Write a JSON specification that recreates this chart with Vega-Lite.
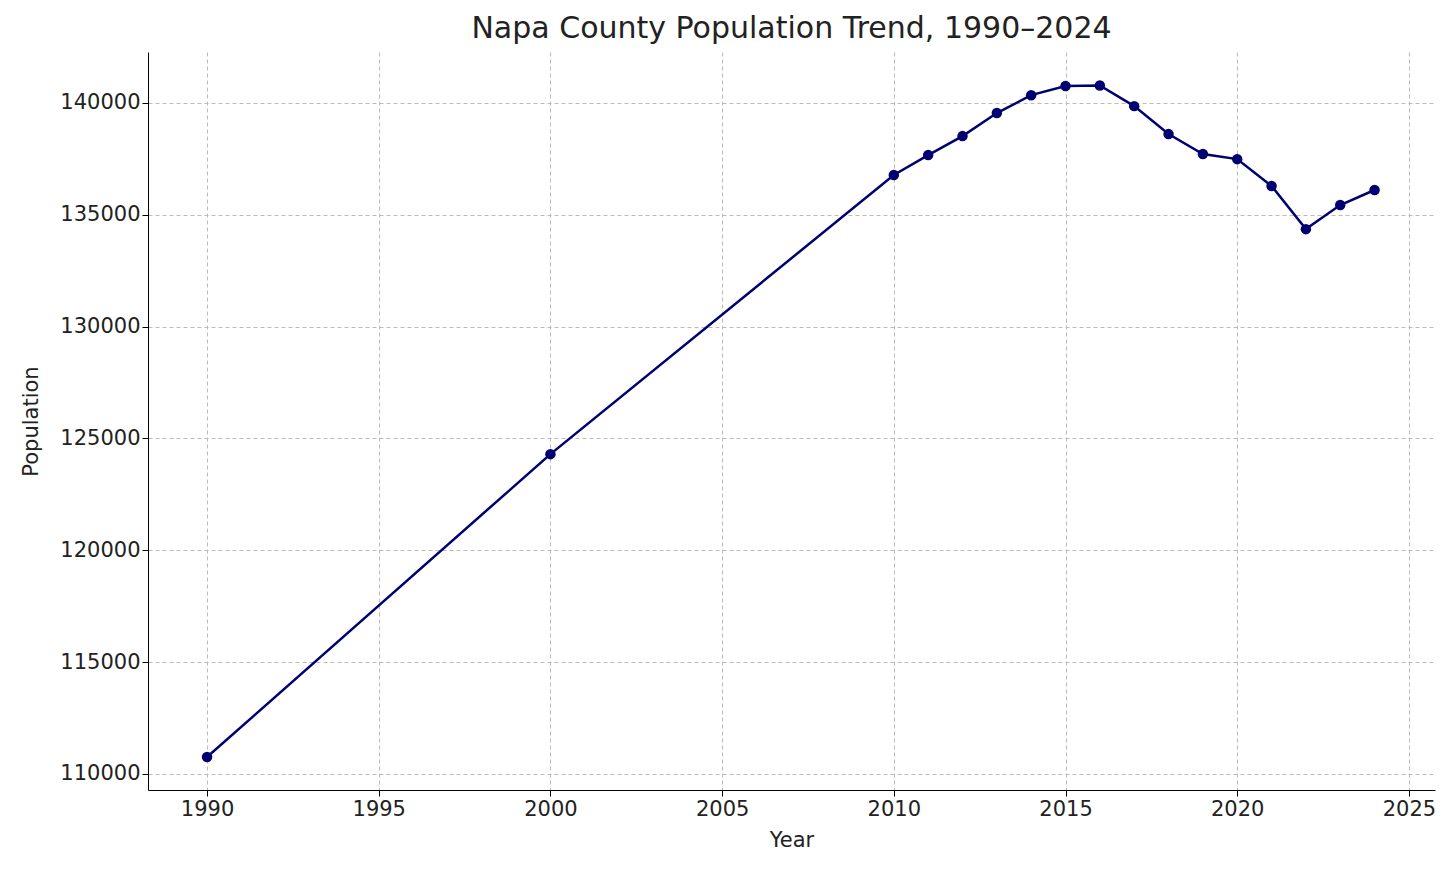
{
  "$schema": "https://vega.github.io/schema/vega-lite/v6.json",
  "autosize": {"type": "none"},
  "padding": {"left": 148, "top": 52, "right": 21, "bottom": 79},
  "width": 1287,
  "height": 738,
  "background": "white",
  "title": {"text": "Napa County Population Trend, 1990–2024", "fontSize": 30, "fontWeight": "normal", "font": "DejaVu Sans", "color": "#222", "offset": 8},
  "config": {
    "font": "DejaVu Sans",
    "view": {"stroke": null},
    "axis": {"labelFontSize": 21, "titleFontSize": 21, "titleFontWeight": "normal", "labelColor": "#222", "titleColor": "#222", "domainColor": "#000", "tickColor": "#000", "gridColor": "#bbb", "gridDash": [4, 3], "tickSize": 6}
  },
  "data": {"values": [
    {"year": 1990, "pop": 110760},
    {"year": 2000, "pop": 124300},
    {"year": 2010, "pop": 136780},
    {"year": 2011, "pop": 137670},
    {"year": 2012, "pop": 138520},
    {"year": 2013, "pop": 139550},
    {"year": 2014, "pop": 140350},
    {"year": 2015, "pop": 140760},
    {"year": 2016, "pop": 140780},
    {"year": 2017, "pop": 139860},
    {"year": 2018, "pop": 138610},
    {"year": 2019, "pop": 137720},
    {"year": 2020, "pop": 137490},
    {"year": 2021, "pop": 136290},
    {"year": 2022, "pop": 134360},
    {"year": 2023, "pop": 135440},
    {"year": 2024, "pop": 136110}
  ]},
  "mark": {"type": "line", "color": "#000070", "strokeWidth": 2.5, "point": {"filled": true, "size": 110, "color": "#000070", "opacity": 1}},
  "encoding": {
    "x": {"field": "year", "type": "quantitative", "title": "Year", "scale": {"domain": [1988.28, 2025.76], "nice": false, "zero": false}, "axis": {"values": [1990, 1995, 2000, 2005, 2010, 2015, 2020, 2025], "format": "d", "titlePadding": 10}},
    "y": {"field": "pop", "type": "quantitative", "title": "Population", "scale": {"domain": [109284, 142280], "nice": false, "zero": false}, "axis": {"values": [110000, 115000, 120000, 125000, 130000, 135000, 140000], "format": "d", "titlePadding": 18}}
  }
}
